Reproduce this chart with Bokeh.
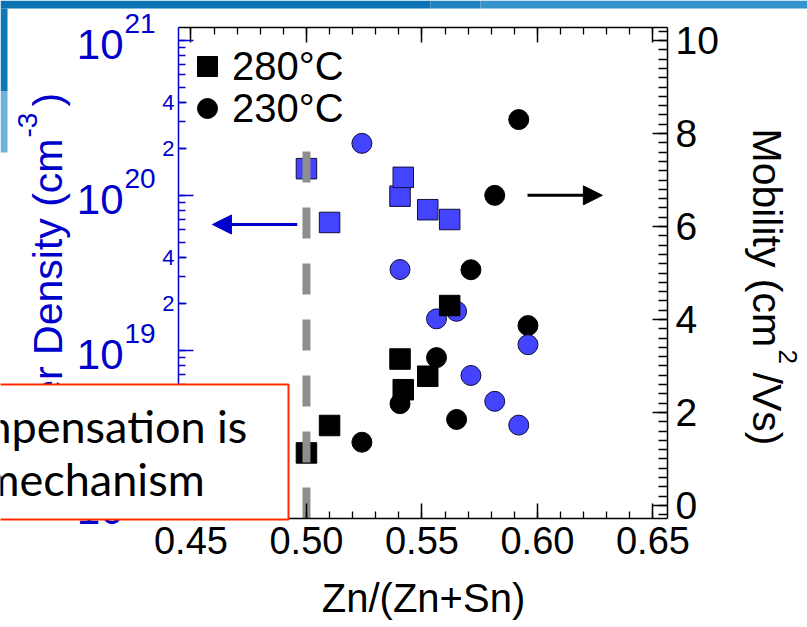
import math

from bokeh.plotting import figure
from bokeh.models import (Range1d, LinearAxis, LogAxis, LinearScale, FixedTicker,
                          SingleIntervalTicker, NumeralTickFormatter, CustomJSTickFormatter,
                          Label, BoxAnnotation, Arrow, NormalHead, Legend, LegendItem, Grid)
from bokeh.embed import file_html
from bokeh.resources import INLINE

# ---------------------------------------------------------------- data ----
# films grown at 280 °C
zn_280 = [0.500, 0.510, 0.5405, 0.5419, 0.5525, 0.562]
density_280 = [1.49e20, 6.7e19, 9.9e19, 1.31e20, 8.1e19, 7.0e19]      # cm^-3
mobility_280 = [1.13, 1.72, 3.15, 2.49, 2.78, 4.30]                    # cm^2/Vs

# films grown at 230 °C
zn_230 = [0.524, 0.5405, 0.5563, 0.565, 0.5712, 0.5815, 0.5919, 0.5959]
density_230 = [2.17e20, 3.33e19, 1.60e19, 1.79e19, 6.9e18, 4.7e18, 3.3e18, 1.09e19]
mobility_230 = [1.36, 2.19, 3.18, 1.85, 5.07, 6.67, 8.30, 3.87]

x_major_ticks = [0.45, 0.50, 0.55, 0.60, 0.65]
density_decades = [18, 19, 20, 21]
density_labelled_mantissas = [2, 4]

stoichiometric_zn = 0.50
stoich_line_top = 1.92e20

# extents of the plotting box
X_LIM = (0.4446, 0.6563)
LOG_DENSITY_LIM = (17.916, 21.084)
MOBILITY_LIM = (-0.28, 10.28)

# arrows telling which axis each set of symbols belongs to
density_arrow = dict(x_start=0.496, x_end=0.4593, y=6.5e19)
mobility_arrow = dict(x_start=0.5957, x_end=0.6281, y=6.67)

# --------------------------------------------------------------- style ----
W, H = 807, 627
BOX_L, BOX_R, BOX_T, BOX_B = 178, 667, 27, 518     # plotting box on the canvas (px)
BLUE = "#0000cc"
MARK_BLUE = "#4444ff"
FONT = "Liberation Sans"
BASELINE_FIX = 0.365      # Label glyphs sit this fraction of the font size below the anchor


def widen(lo, hi, px_lo, px_hi, px_total):
    """extend a [lo, hi] interval drawn between px_lo..px_hi to cover 0..px_total"""
    per_px = (hi - lo) / (px_hi - px_lo)
    return lo - px_lo * per_px, hi + (px_total - px_hi) * per_px


# the canvas-wide ranges keep callout / titles inside the drawable area,
# the axes are pinned to the plotting box with fixed_location + bounds
x_full = widen(X_LIM[0], X_LIM[1], BOX_L, BOX_R, W)
mob_full = widen(MOBILITY_LIM[0], MOBILITY_LIM[1], H - BOX_B, H - BOX_T, H)
logd_full = widen(LOG_DENSITY_LIM[0], LOG_DENSITY_LIM[1], H - BOX_B, H - BOX_T, H)
DENSITY_LIM = (10 ** LOG_DENSITY_LIM[0], 10 ** LOG_DENSITY_LIM[1])


def text_at(x_px, y_px, size, angle=0.0):
    """baseline anchor in canvas pixels (top-left origin) -> Label screen coords"""
    shift = BASELINE_FIX * size
    if angle > 0:
        x_px -= shift
    elif angle < 0:
        x_px += shift
    else:
        y_px -= shift
    return dict(x=x_px, y=H - y_px, x_units="screen", y_units="screen",
                angle=angle, text_font_size=f"{size}px", text_baseline="alphabetic")


p = figure(width=W, height=H,
           x_range=Range1d(*x_full), y_range=Range1d(10 ** logd_full[0], 10 ** logd_full[1]),
           y_axis_type="log", x_axis_location=None, y_axis_location=None,
           output_backend="svg", toolbar_location=None, min_border=0)
p.extra_y_ranges = {"mob": Range1d(*mob_full)}
p.extra_y_scales = {"mob": LinearScale()}
p.outline_line_color = None
p.background_fill_color = "white"
p.border_fill_color = "white"
for g in p.select(type=Grid):
    g.visible = False

HIDDEN_LABELS = dict(major_label_text_font_size="1px", major_label_text_alpha=0,
                     major_label_standoff=0)

# ---------------------------------------------------------------- axes ----
x_minor = [round(0.45 + 0.01 * i, 2) for i in range(21)]


def x_axis(show_labels, at):
    ax = LinearAxis(ticker=FixedTicker(ticks=x_major_ticks, minor_ticks=x_minor),
                    formatter=NumeralTickFormatter(format="0.00"),
                    y_range_name="mob", fixed_location=at, bounds=X_LIM,
                    major_tick_in=15, major_tick_out=0, minor_tick_in=7, minor_tick_out=0,
                    axis_line_color="black", axis_line_width=1.5,
                    major_tick_line_color="black", major_tick_line_width=1.5,
                    minor_tick_line_color="black", minor_tick_line_width=1.3,
                    major_label_text_font=FONT, major_label_text_color="black")
    if show_labels:
        ax.major_label_text_font_size = "38px"
        ax.major_label_standoff = 8
    else:
        for k, v in HIDDEN_LABELS.items():
            setattr(ax, k, v)
    return ax


p.add_layout(x_axis(True, MOBILITY_LIM[0]), "below")
p.add_layout(x_axis(False, MOBILITY_LIM[1]), "above")

decade_ticks = [10.0 ** d for d in density_decades]
density_minor = [m * 10.0 ** d for d in range(18, 21) for m in range(1, 10)] + [1e21]
dens_axis = LogAxis(ticker=FixedTicker(ticks=decade_ticks, minor_ticks=density_minor),
                    fixed_location=X_LIM[0], bounds=DENSITY_LIM,
                    major_tick_in=15, major_tick_out=0, minor_tick_in=7, minor_tick_out=0,
                    axis_line_color=BLUE, axis_line_width=1.5,
                    major_tick_line_color=BLUE, major_tick_line_width=1.5,
                    minor_tick_line_color=BLUE, minor_tick_line_width=1.3,
                    **HIDDEN_LABELS)
p.add_layout(dens_axis, "left")

mantissa_ticks = [float(m) * 10.0 ** d for d in range(18, 21) for m in density_labelled_mantissas]
mant_axis = LogAxis(ticker=FixedTicker(ticks=mantissa_ticks, minor_ticks=[]),
                    fixed_location=X_LIM[0], bounds=DENSITY_LIM,
                    formatter=CustomJSTickFormatter(
                        code="return String(Math.round(tick / Math.pow(10, Math.floor(Math.log10(tick) + 1e-9))))"),
                    axis_line_color=None,
                    major_tick_in=8, major_tick_out=0, major_tick_line_color=BLUE,
                    major_tick_line_width=1.3,
                    major_label_text_font=FONT, major_label_text_font_size="22px",
                    major_label_text_color=BLUE, major_label_standoff=4)
p.add_layout(mant_axis, "left")

mob_axis = LinearAxis(y_range_name="mob", fixed_location=X_LIM[1], bounds=MOBILITY_LIM,
                      ticker=SingleIntervalTicker(interval=2, num_minor_ticks=10),
                      major_tick_in=15, major_tick_out=0, minor_tick_in=9, minor_tick_out=0,
                      axis_line_color="black", axis_line_width=1.5,
                      major_tick_line_color="black", major_tick_line_width=1.5,
                      minor_tick_line_color="black", minor_tick_line_width=1.3,
                      major_label_text_font=FONT, major_label_text_font_size="39px",
                      major_label_text_color="black", major_label_standoff=8)
p.add_layout(mob_axis, "right")

# decade labels 10^n on the density axis
for d in density_decades:
    p.add_layout(Label(x=123, x_units="screen", y=10.0 ** d, y_units="data",
                       y_offset=-19 + BASELINE_FIX * 42, text=str(10), text_align="right",
                       text_baseline="alphabetic", text_font=FONT,
                       text_font_size="42px", text_color=BLUE))
    p.add_layout(Label(x=124, x_units="screen", y=10.0 ** d, y_units="data",
                       y_offset=7 + BASELINE_FIX * 28, text=str(d), text_align="left",
                       text_baseline="alphabetic", text_font=FONT,
                       text_font_size="28px", text_color=BLUE))

# ------------------------------------------------------------- markers ----
r_mu230 = p.scatter(zn_230, mobility_230, marker="circle", size=20,
                    fill_color="black", line_color="black", y_range_name="mob")
p.scatter(zn_230, density_230, marker="circle", size=20,
          fill_color=MARK_BLUE, line_color="#10103a", line_width=1)
p.scatter(zn_280, density_280, marker="square", size=20.5,
          fill_color=MARK_BLUE, line_color="#10103a", line_width=1)
r_mu280 = p.scatter(zn_280, mobility_280, marker="square", size=20.5,
                    fill_color="black", line_color="black", y_range_name="mob")

# Zn/(Zn+Sn) = 0.5 guide
p.line([stoichiometric_zn, stoichiometric_zn], [stoich_line_top, DENSITY_LIM[0]],
       line_width=8, line_color="#8e8e8e", line_dash="31 25", line_cap="butt")

p.add_layout(Arrow(end=NormalHead(size=19, fill_color=BLUE, line_color=BLUE),
                   x_start=density_arrow["x_start"], y_start=density_arrow["y"],
                   x_end=density_arrow["x_end"], y_end=density_arrow["y"],
                   line_color=BLUE, line_width=3))
p.add_layout(Arrow(end=NormalHead(size=19, fill_color="black", line_color="black"),
                   x_start=mobility_arrow["x_start"], y_start=mobility_arrow["y"],
                   x_end=mobility_arrow["x_end"], y_end=mobility_arrow["y"],
                   line_color="black", line_width=3, y_range_name="mob"))

# -------------------------------------------------------------- legend ----
LEGEND_STYLE = dict(orientation="vertical", glyph_width=50, glyph_height=52,
                    padding=0, margin=0, label_standoff=0, label_text_font=FONT,
                    label_text_font_size="40px", label_text_color="black",
                    border_line_color=None, background_fill_alpha=0)
p.add_layout(Legend(items=[LegendItem(label="280°C", renderers=[r_mu280])],
                    location=(182, 535), **LEGEND_STYLE))
p.add_layout(Legend(items=[LegendItem(label="230°C", renderers=[r_mu230])],
                    location=(182, 493), **LEGEND_STYLE))

# --------------------------------------------------------- axis titles ----
up, down = math.pi / 2, -math.pi / 2
p.add_layout(Label(text="Carrier Density (cm", text_align="right", text_font=FONT,
                   text_color=BLUE, **text_at(62, 138, 41, up)))
p.add_layout(Label(text="-3", text_align="left", text_font=FONT,
                   text_color=BLUE, **text_at(37, 137, 28, up)))
p.add_layout(Label(text=")", text_align="left", text_font=FONT,
                   text_color=BLUE, **text_at(62, 106, 41, up)))

p.add_layout(Label(text="Mobility (cm", text_align="left", text_font=FONT,
                   text_color="black", **text_at(752, 128, 41, down)))
p.add_layout(Label(text="2", text_align="left", text_font=FONT,
                   text_color="black", **text_at(778, 349, 26, down)))
p.add_layout(Label(text="/Vs)", text_align="left", text_font=FONT,
                   text_color="black", **text_at(752, 372, 41, down)))

p.add_layout(Label(text="Zn/(Zn+Sn)", text_align="center", text_font=FONT,
                   text_color="black", **text_at(423, 612, 40)))


# ------------------------------------------------- slide decorations -----
def screen_box(left, top, right, bottom, **kw):
    return BoxAnnotation(left=left, right=right, top=H - top, bottom=H - bottom,
                         left_units="screen", right_units="screen",
                         top_units="screen", bottom_units="screen", level="overlay", **kw)


p.add_layout(screen_box(0, 0, 430, 8, fill_color="#0b73b3", fill_alpha=1, line_color=None))
p.add_layout(screen_box(430, 0, 480, 8, fill_color="#1e82bf", fill_alpha=1, line_color=None))
p.add_layout(screen_box(480, 0, W, 8, fill_color="#3493cb", fill_alpha=1, line_color=None))
p.add_layout(screen_box(0, 8, 7, 91, fill_color="#0c78b6", fill_alpha=1, line_color=None))
p.add_layout(screen_box(0, 91, 7, 152, fill_color="#6fb1da", fill_alpha=1, line_color=None))

# callout box
p.add_layout(screen_box(-10, 384, 288, 519, fill_color="white", fill_alpha=1,
                        line_color="#ff2a00", line_alpha=1, line_width=2))
p.add_layout(Label(text="mpensation is", text_font="Lato", text_color="black",
                   text_align="left", level="overlay", **text_at(-26, 442, 45)))
p.add_layout(Label(text="mechanism", text_font="Lato", text_color="black",
                   text_align="left", level="overlay", **text_at(-18, 495, 45)))

open("out.html", "w").write(file_html(p, INLINE))
